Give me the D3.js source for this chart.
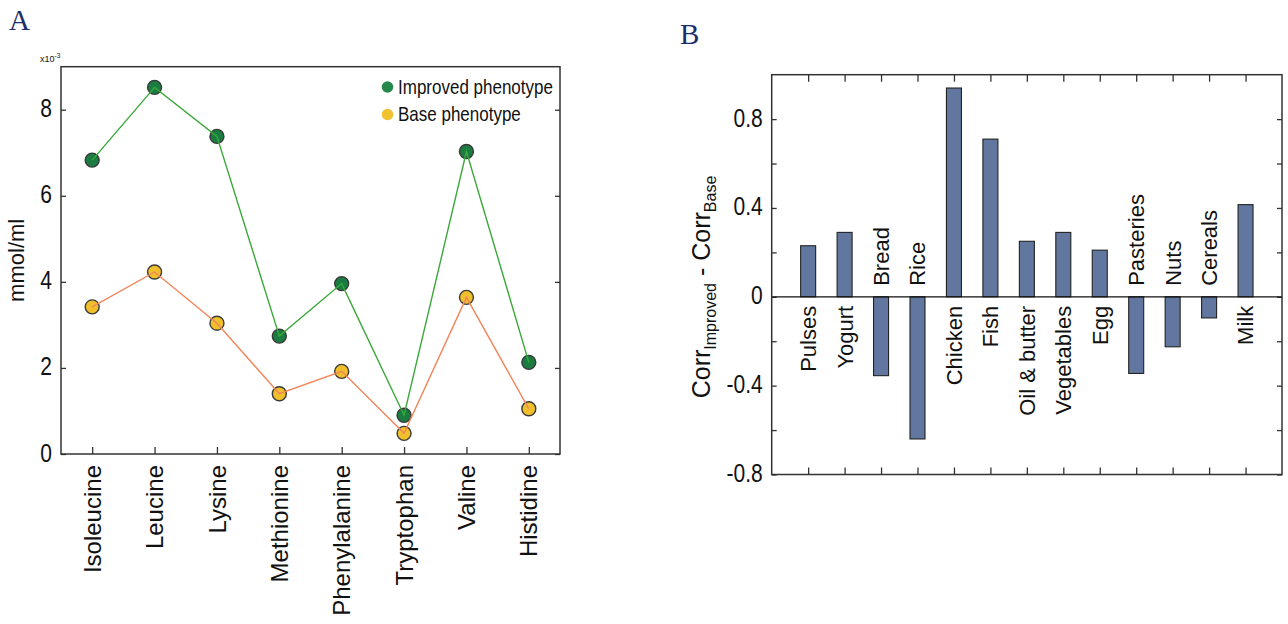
<!DOCTYPE html>
<html>
<head>
<meta charset="utf-8">
<script src="https://cdn.jsdelivr.net/npm/d3@7"></script>
<style>
  body { margin: 0; background: #fff; }
  svg { display: block; font-family: "Liberation Sans", Arial, sans-serif; }
</style>
</head>
<body>
<svg id="chart" width="1288" height="624"></svg>
<script>
// ---------- Data: panel A ----------
const aminoAcids = ["Isoleucine", "Leucine", "Lysine", "Methionine", "Phenylalanine", "Tryptophan", "Valine", "Histidine"];
const improvedValues = [6.83, 8.52, 7.38, 2.74, 3.96, 0.90, 7.03, 2.13];
const baseValues = [3.42, 4.23, 3.04, 1.40, 1.92, 0.48, 3.64, 1.05];
const yTicksA = [0, 2, 4, 6, 8];
const legendLabels = ["Improved phenotype", "Base phenotype"];

// ---------- Data: panel B ----------
const foods = ["Pulses", "Yogurt", "Bread", "Rice", "Chicken", "Fish", "Oil & butter", "Vegetables", "Egg", "Pasteries", "Nuts", "Cereals", "Milk"];
const corrDiff = [0.23, 0.29, -0.355, -0.64, 0.94, 0.71, 0.25, 0.29, 0.21, -0.345, -0.225, -0.095, 0.415];
const yTicksB = [-0.8, -0.4, 0, 0.4, 0.8];
const yMinorB = [-0.6, -0.2, 0.2, 0.6];

const svg = d3.select("#chart");
const frameColor = "#333";
const textColor = "#111";
const TX = 1.22; // vertical stretch of horizontal text

// ---------- Panel labels ----------
svg.append("text").attr("x", 9).attr("y", 30).text("A")
  .attr("font-family", "Liberation Serif, Times New Roman, serif").attr("font-size", 29).attr("fill", "#1c2e6b");
svg.append("text").attr("x", 680).attr("y", 44).text("B")
  .attr("font-family", "Liberation Serif, Times New Roman, serif").attr("font-size", 29).attr("fill", "#1c2e6b");

function stretchedText(g, x, y, str, size, anchor) {
  return g.append("text")
    .attr("transform", `translate(${x},${y}) scale(1,${TX})`)
    .attr("text-anchor", anchor).attr("font-size", size).attr("fill", textColor)
    .text(str);
}

// ================= Panel A =================
const A = { left: 61, right: 560, top: 66.7, bottom: 454 };
const gA = svg.append("g");
const xA = d3.scalePoint().domain(aminoAcids).range([A.left, A.right]).padding(0.5);
const yA = d3.scaleLinear().domain([0, 9]).range([A.bottom, A.top]);

// y ticks left & right (inward)
const yAxisAL = d3.axisRight(yA).tickValues(yTicksA).tickSize(5).tickFormat("");
const yAxisAR = d3.axisLeft(yA).tickValues(yTicksA).tickSize(5).tickFormat("");
gA.append("g").attr("transform", `translate(${A.left},0)`).call(yAxisAL)
  .call(g => g.select(".domain").remove()).selectAll("line").attr("stroke", frameColor).attr("stroke-width", 1.3);
gA.append("g").attr("transform", `translate(${A.right},0)`).call(yAxisAR)
  .call(g => g.select(".domain").remove()).selectAll("line").attr("stroke", frameColor).attr("stroke-width", 1.3);
// x ticks bottom (inward)
const xAxisA = d3.axisTop(xA).tickSize(7).tickFormat("");
gA.append("g").attr("transform", `translate(0,${A.bottom})`).call(xAxisA)
  .call(g => g.select(".domain").remove()).selectAll("line").attr("stroke", frameColor).attr("stroke-width", 1.3);

// frame
gA.append("rect").attr("x", A.left).attr("y", A.top).attr("width", A.right - A.left).attr("height", A.bottom - A.top)
  .attr("fill", "none").attr("stroke", frameColor).attr("stroke-width", 1.5);

// y tick labels
yTicksA.forEach(v => stretchedText(gA, A.left - 9, yA(v) + 7.5, String(v), 21, "end"));
// exponent label
const expT = gA.append("text").attr("x", 40).attr("y", 62).attr("font-size", 9).attr("fill", textColor);
expT.append("tspan").text("x10");
expT.append("tspan").attr("dy", -4).attr("font-size", 6.5).text("-3");

// y axis label
gA.append("text").attr("transform", `translate(24,${(A.top + A.bottom) / 2}) rotate(-90)`)
  .attr("text-anchor", "middle").attr("font-size", 22).attr("fill", textColor).text("mmol/ml");

// x labels
aminoAcids.forEach(a => {
  gA.append("text").attr("transform", `translate(${xA(a)},465) rotate(-90)`)
    .attr("dy", "0.36em").attr("text-anchor", "end").attr("font-size", 24).attr("fill", textColor).text(a);
});

// markers then lines (lines drawn on top)
const seriesA = [
  { vals: improvedValues, fill: "#1b7c41", line: "#3aa83a" },
  { vals: baseValues, fill: "#f0c02c", line: "#f2855a" }
];
seriesA.forEach(s => {
  gA.append("g").selectAll("circle").data(s.vals).join("circle")
    .attr("cx", (d, i) => xA(aminoAcids[i])).attr("cy", d => yA(d)).attr("r", 7)
    .attr("fill", s.fill).attr("stroke", "#3a3a3a").attr("stroke-width", 1.4);
});
seriesA.forEach(s => {
  const line = d3.line().x((d, i) => xA(aminoAcids[i])).y(d => yA(d));
  gA.append("path").datum(s.vals).attr("d", line).attr("fill", "none")
    .attr("stroke", s.line).attr("stroke-width", 1.4);
});

// legend
const legendColors = ["#23884a", "#f0c130"];
legendLabels.forEach((l, i) => {
  const cy = 87 + i * 27.5;
  gA.append("circle").attr("cx", 387.5).attr("cy", cy).attr("r", 5.8).attr("fill", legendColors[i]);
  stretchedText(gA, 398, cy + 6.5, l, 17, "start");
});

// ================= Panel B =================
const B = { left: 771.7, right: 1282, top: 74.7, bottom: 474.5 };
const gB = svg.append("g");
const xB = d3.scalePoint().domain(foods).range([B.left, B.right]).padding(1);
const yB = d3.scaleLinear().domain([-0.8, 1.0]).range([B.bottom, B.top]);
const barW = 15;

const allYB = yTicksB.concat(yMinorB);
gB.append("g").attr("transform", `translate(${B.left},0)`).call(d3.axisRight(yB).tickValues(allYB).tickSize(5).tickFormat(""))
  .call(g => g.select(".domain").remove()).selectAll("line").attr("stroke", frameColor).attr("stroke-width", 1.3);
gB.append("g").attr("transform", `translate(${B.right},0)`).call(d3.axisLeft(yB).tickValues(allYB).tickSize(5).tickFormat(""))
  .call(g => g.select(".domain").remove()).selectAll("line").attr("stroke", frameColor).attr("stroke-width", 1.3);
gB.append("g").attr("transform", `translate(0,${B.bottom})`).call(d3.axisTop(xB).tickSize(7).tickFormat(""))
  .call(g => g.select(".domain").remove()).selectAll("line").attr("stroke", frameColor).attr("stroke-width", 1.3);
gB.append("g").attr("transform", `translate(0,${B.top})`).call(d3.axisBottom(xB).tickSize(7).tickFormat(""))
  .call(g => g.select(".domain").remove()).selectAll("line").attr("stroke", frameColor).attr("stroke-width", 1.3);

// bars
gB.append("g").selectAll("rect").data(corrDiff).join("rect")
  .attr("x", (d, i) => xB(foods[i]) - barW / 2).attr("width", barW)
  .attr("y", d => yB(Math.max(0, d))).attr("height", d => Math.abs(yB(d) - yB(0)))
  .attr("fill", "#62779f").attr("stroke", "#222").attr("stroke-width", 1.1);

// zero line
gB.append("line").attr("x1", B.left).attr("x2", B.right).attr("y1", yB(0)).attr("y2", yB(0))
  .attr("stroke", "#111").attr("stroke-width", 1.2);

// frame
gB.append("rect").attr("x", B.left).attr("y", B.top).attr("width", B.right - B.left).attr("height", B.bottom - B.top)
  .attr("fill", "none").attr("stroke", frameColor).attr("stroke-width", 1.5);

// tick labels
yTicksB.forEach(v => stretchedText(gB, B.left - 9, yB(v) + 7.5, String(v), 21, "end"));

// food labels
foods.forEach((f, i) => {
  const v = corrDiff[i];
  const y = v >= 0 ? yB(0) + 9 : yB(0) - 11;
  gB.append("text").attr("transform", `translate(${xB(f)},${y}) rotate(-90)`)
    .attr("dy", "0.36em").attr("text-anchor", v >= 0 ? "end" : "start")
    .attr("font-size", 22).attr("fill", textColor).text(f);
});

// y axis label
const yl = gB.append("text").attr("transform", `translate(710,287) rotate(-90)`)
  .attr("text-anchor", "middle").attr("font-size", 25).attr("fill", textColor);
yl.append("tspan").text("Corr");
yl.append("tspan").attr("font-size", 16).attr("dy", 6).text("Improved");
yl.append("tspan").attr("dy", -6).text(" - Corr");
yl.append("tspan").attr("font-size", 16).attr("dy", 6).text("Base");
</script>
</body>
</html>
